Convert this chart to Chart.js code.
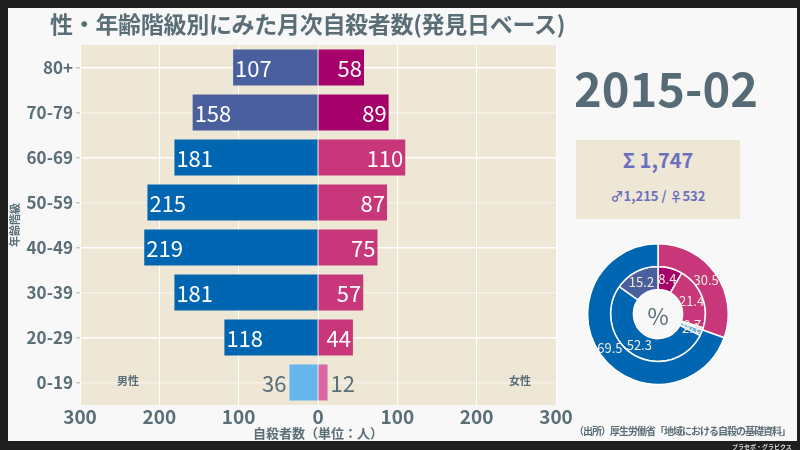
<!DOCTYPE html>
<html>
<head>
<meta charset="utf-8">
<script src="https://cdn.jsdelivr.net/npm/chart.js@4"></script>
<style>
  body { margin: 0; background: #1f1f1f; font-family: "Noto Sans CJK JP", "Noto Sans", sans-serif; }
  #wrap { position: relative; width: 800px; height: 450px; overflow: hidden; }
  #panel { position: absolute; left: 8px; top: 8px; width: 789px; height: 433px; background: #f8f8f8; }
  .txt { position: absolute; color: #5a6e78; font-weight: 700; white-space: nowrap; }
  #barChart { position: absolute; left: 0; top: 0; }
  #pieChart { position: absolute; left: 587px; top: 243px; }
</style>
</head>
<body>
<div id="wrap">
  <div id="panel"></div>
  <canvas id="barChart" width="800" height="450"></canvas>
  <div class="txt" style="left:50px; top:6px; font-size:23px; letter-spacing:-0.3px;">性・年齢階級別にみた月次自殺者数(発見日ベース)</div>
  <div class="txt" style="left:566px; top:52px; width:200px; text-align:center; font-size:47px; color:#566b75;">2015-02</div>
  <div style="position:absolute; left:576px; top:140px; width:164px; height:79px; background:#efe7d6;"></div>
  <div class="txt" id="sumTotal" style="left:576px; top:145px; width:164px; text-align:center; font-size:20px; color:#6a6fbf;"></div>
  <div class="txt" id="sumSex" style="left:576px; top:186px; width:164px; text-align:center; font-size:13px; color:#6a6fbf;"></div>
  <canvas id="pieChart" width="142" height="142"></canvas>
  <div class="txt" style="left:628px; top:298px; width:60px; text-align:center; font-size:23px; font-weight:400;">%</div>
  <div class="txt" style="left:117px; top:372px; font-size:11px;">男性</div>
  <div class="txt" style="left:509px; top:372px; font-size:11px;">女性</div>
  <div class="txt" style="left:574px; top:423px; font-size:10px; letter-spacing:-1px;">（出所）厚生労働省「地域における自殺の基礎資料」</div>
  <div class="txt" style="left:732px; top:442px; font-size:6px; color:#ddd;">プラセボ・グラビクス</div>
</div>
<script>
// age groups, top to bottom
const ageGroups = ['80+', '70-79', '60-69', '50-59', '40-49', '30-39', '20-29', '0-19']
const male = [107, 158, 181, 215, 219, 181, 118, 36]
const female = [58, 89, 110, 87, 75, 57, 44, 12]
const xTicks = [-300, -200, -100, 0, 100, 200, 300]

const maleColors = ['#4a5f9e', '#4a5f9e', '#0066b2', '#0066b2', '#0066b2', '#0066b2', '#0066b2', '#66b5ec']
const femaleColors = ['#a6006a', '#a6006a', '#c73779', '#c73779', '#c73779', '#c73779', '#c73779', '#d965a3']

const font = '"Noto Sans CJK JP", "Noto Sans", sans-serif'
const gray = '#5a6e78'

const maleTotal = male.reduce((a, b) => a + b, 0)
const femaleTotal = female.reduce((a, b) => a + b, 0)
const total = maleTotal + femaleTotal
document.getElementById('sumTotal').textContent = 'Σ  ' + total.toLocaleString('en-US')
document.getElementById('sumSex').textContent = '♂' + maleTotal.toLocaleString('en-US') + ' / ♀' + femaleTotal

const areaBg = {
    id: 'areaBg',
    beforeDraw(chart) {
        const a = chart.chartArea
        const ctx = chart.ctx
        ctx.save()
        ctx.fillStyle = '#efe7d6'
        ctx.fillRect(a.left, a.top, a.right - a.left, a.bottom - a.top)
        ctx.restore()
    }
}

const barLabels = {
    id: 'barLabels',
    afterDatasetsDraw(chart) {
        const ctx = chart.ctx
        ctx.save()
        ctx.font = '400 22px ' + font
        ctx.textBaseline = 'middle'
        chart.data.datasets.forEach((ds, di) => {
            chart.getDatasetMeta(di).data.forEach((bar, i) => {
                const v = Math.abs(ds.data[i])
                const small = v < 40
                const isMale = di === 0
                const end = bar.x
                ctx.fillStyle = small ? gray : '#ffffff'
                if (isMale) {
                    ctx.textAlign = small ? 'right' : 'left'
                    ctx.fillText(v, small ? end - 3 : end + 2, bar.y + 1)
                } else {
                    ctx.textAlign = small ? 'left' : 'right'
                    ctx.fillText(v, small ? end + 3 : end - 2, bar.y + 1)
                }
            })
        })
        ctx.restore()
    }
}

new Chart(document.getElementById('barChart'), {
    type: 'bar',
    data: {
        labels: ageGroups,
        datasets: [
            { label: '男性', data: male.map(v => -v), backgroundColor: maleColors },
            { label: '女性', data: female, backgroundColor: femaleColors }
        ]
    },
    options: {
        indexAxis: 'y',
        responsive: false,
        animation: false,
        barPercentage: 0.8,
        categoryPercentage: 1,
        layout: { padding: { left: 8, right: 244, top: 45, bottom: 9 } },
        plugins: { legend: { display: false }, tooltip: { enabled: false } },
        scales: {
            x: {
                stacked: true,
                min: -300,
                max: 300,
                afterBuildTicks: (scale) => { scale.ticks = xTicks.map(v => ({ value: v })) },
                afterFit: (scale) => { scale.height = 36 },
                border: { display: false },
                grid: { color: '#ffffff', lineWidth: 1, drawTicks: false },
                ticks: {
                    color: gray, padding: 0,
                    font: { family: font, size: 19, weight: '700' },
                    callback: (v) => Math.abs(v)
                },
                title: {
                    display: true, text: '自殺者数（単位：人）', color: gray, padding: 0,
                    font: { family: font, size: 13, weight: '700' }
                }
            },
            y: {
                stacked: true,
                afterFit: (scale) => { scale.width = 72 },
                border: { display: false },
                grid: {
                    offset: false,
                    color: (c) => c.index % 2 === 0 ? '#ffffff' : 'rgba(255,255,255,0.45)',
                    lineWidth: 1.5, tickLength: 4, tickColor: '#c8c8c8'
                },
                ticks: { color: gray, padding: 3, font: { family: font, size: 17, weight: '700' } },
                title: {
                    display: true, text: '年齢階級', color: gray, padding: 0,
                    font: { family: font, size: 11, weight: '700' }
                }
            }
        }
    },
    plugins: [areaBg, barLabels]
})

// donut: outer ring by sex, inner ring by age band
const pct = (v) => Math.round(v / total * 1000) / 10
const femaleOld = female[0] + female[1]
const femaleMid = female.slice(2, 7).reduce((a, b) => a + b, 0)
const femaleYoung = female[7]
const maleOld = male[0] + male[1]
const maleMid = male.slice(2, 7).reduce((a, b) => a + b, 0)
const maleYoung = male[7]

const pieLabels = {
    id: 'pieLabels',
    afterDatasetsDraw(chart) {
        const ctx = chart.ctx
        ctx.save()
        ctx.font = '400 13px ' + font
        ctx.fillStyle = '#f3ecdc'
        ctx.textAlign = 'center'
        ctx.textBaseline = 'middle'
        chart.data.datasets.forEach((ds, di) => {
            chart.getDatasetMeta(di).data.forEach((arc, i) => {
                const p = arc.tooltipPosition()
                ctx.fillText(ds.data[i].toFixed(1), p.x, p.y)
            })
        })
        ctx.restore()
    }
}

new Chart(document.getElementById('pieChart'), {
    type: 'doughnut',
    data: {
        datasets: [
            {
                data: [pct(femaleTotal), pct(maleTotal)],
                backgroundColor: ['#c73779', '#0066b2']
            },
            {
                data: [pct(femaleOld), pct(femaleMid), pct(femaleYoung), pct(maleYoung), pct(maleMid), pct(maleOld)],
                backgroundColor: ['#a6006a', '#c73779', '#d965a3', '#66b5ec', '#0066b2', '#4a5f9e']
            }
        ]
    },
    options: {
        responsive: false,
        animation: false,
        cutout: '35%',
        borderColor: '#ffffff',
        borderWidth: 1.5,
        plugins: { legend: { display: false }, tooltip: { enabled: false } }
    },
    plugins: [pieLabels]
})
</script>
</body>
</html>
